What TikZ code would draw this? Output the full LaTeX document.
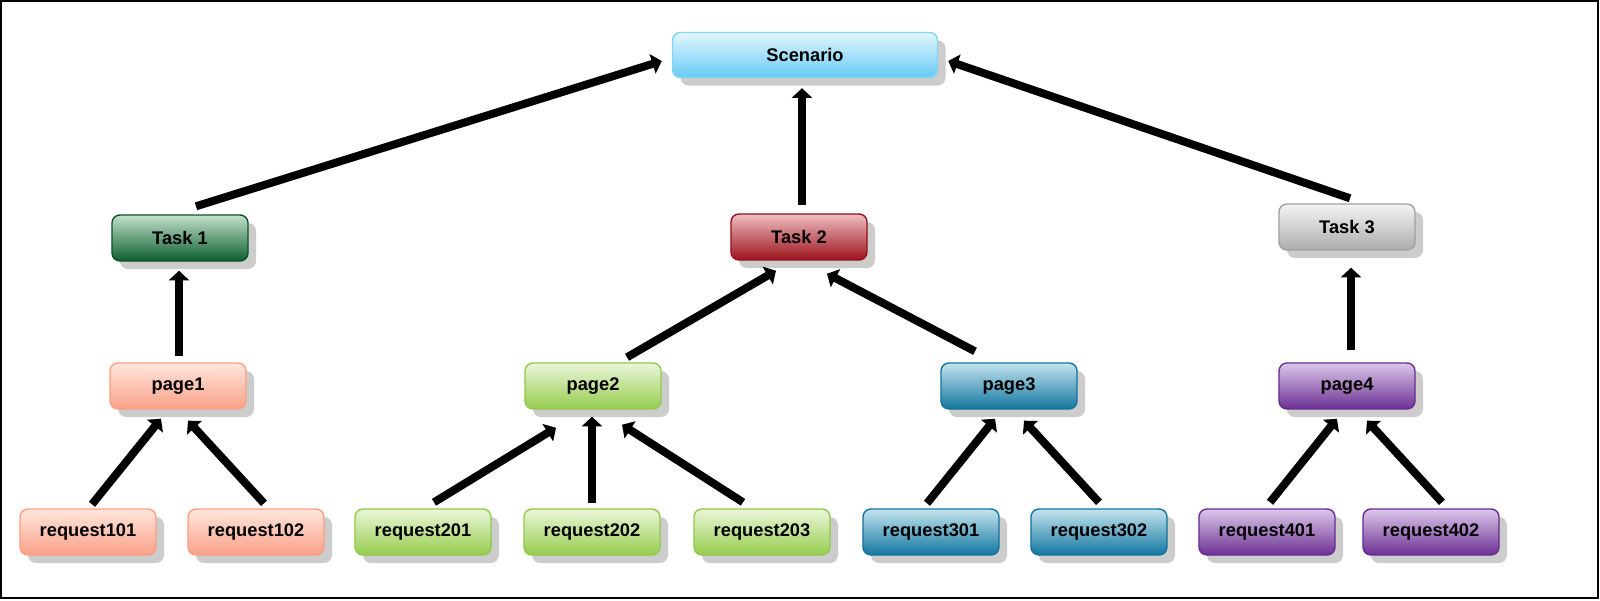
\documentclass[tikz,border=0pt]{standalone}
\usepackage{fontspec}
\setmainfont{Liberation Sans}
\usetikzlibrary{arrows.meta,shadows,calc}

\definecolor{skytop}{RGB}{226,246,254}
\definecolor{skybot}{RGB}{104,203,245}
\definecolor{skyline}{RGB}{128,212,246}
\definecolor{pinetop}{RGB}{196,224,204}
\definecolor{pinebot}{RGB}{12,94,46}
\definecolor{pineline}{RGB}{10,84,38}
\definecolor{winetop}{RGB}{238,190,194}
\definecolor{winebot}{RGB}{158,18,28}
\definecolor{wineline}{RGB}{150,16,26}
\definecolor{ashtop}{RGB}{244,244,244}
\definecolor{ashbot}{RGB}{172,172,172}
\definecolor{ashline}{RGB}{160,160,160}
\definecolor{coraltop}{RGB}{255,230,222}
\definecolor{coralbot}{RGB}{249,160,134}
\definecolor{coralline}{RGB}{250,160,130}
\definecolor{limetop}{RGB}{234,246,216}
\definecolor{limebot}{RGB}{150,204,78}
\definecolor{limeline}{RGB}{146,200,76}
\definecolor{seatop}{RGB}{196,228,238}
\definecolor{seabot}{RGB}{18,118,160}
\definecolor{sealine}{RGB}{18,116,156}
\definecolor{plumtop}{RGB}{220,200,234}
\definecolor{plumbot}{RGB}{108,48,148}
\definecolor{plumline}{RGB}{104,44,144}

\tikzset{
  box/.style={draw=#1line, line width=0.035cm, top color=#1top, bottom color=#1bot,
    rounded corners=0.2cm, minimum width=3.4cm, minimum height=1.15cm, inner sep=0pt,
    font=\fontsize{13}{15}\selectfont\bfseries,
    drop shadow={shadow xshift=0.2cm, shadow yshift=-0.2cm, fill=black!20, opacity=1}},
  link/.style={line width=0.2cm, -{Triangle[length=0.24cm, width=0.5cm]}}
}

\begin{document}
\begin{tikzpicture}[x=0.025cm, y=-0.025cm]
\useasboundingbox (0,0) rectangle (1600,600);
\draw[line width=0.04cm] (0.8,0.8) rectangle (1598,598);
% Scenario
\node[box=sky, minimum width=6.625cm, minimum height=1.125cm] (sc) at (805,55) {Scenario};
% Tasks
\node[box=pine] (t1) at (180,238) {Task 1};
\node[box=wine] (t2) at (799,237) {Task 2};
\node[box=ash] (t3) at (1347,227) {Task 3};
% Pages
\foreach \n/\x/\c in {1/178/coral,2/593/lime,3/1009/sea,4/1347/plum}
  \node[box=\c] (p\n) at (\x,386) {page\n};
% Requests
\foreach \n/\x/\c in {101/88/coral,102/256/coral,201/423/lime,202/592/lime,203/762/lime,
    301/931/sea,302/1099/sea,401/1267/plum,402/1431/plum}
  \node[box=\c] (r\n) at (\x,532) {request\n};
% Arrows
\foreach \a/\ax/\ay/\b/\bx/\by in {
    t1.north/16/-8/sc.west/-10/6, t2.north/3/-8/sc.south/-3/10, t3.north/3/-5/sc.east/10/6,
    p1.north/1/-6/t1.south/-1/9, p2.north/34/-5/t2.south/-23/10, p3.north/-34/-11/t2.south/28/13,
    p4.north/4/-12/t3.south/4/17,
    r101.north/4/-4/p1.south/-17/9, r102.north/8/-5/p1.south/10/11,
    r201.north/11/-6/p2.south/-37/18, r202.north/0/-5/p2.south/-1/7, r203.north/-19/-6/p2.south/29/15,
    r301.north/-4/-5/p3.south/-14/9, r302.north/0/-6/p3.south/15/11,
    r401.north/3/-6/p4.south/-10/9, r402.north/11/-6/p4.south/20/11}
  \draw[link] ($(\a)+(\ax,\ay)$) -- ($(\b)+(\bx,\by)$);
\end{tikzpicture}
\end{document}
